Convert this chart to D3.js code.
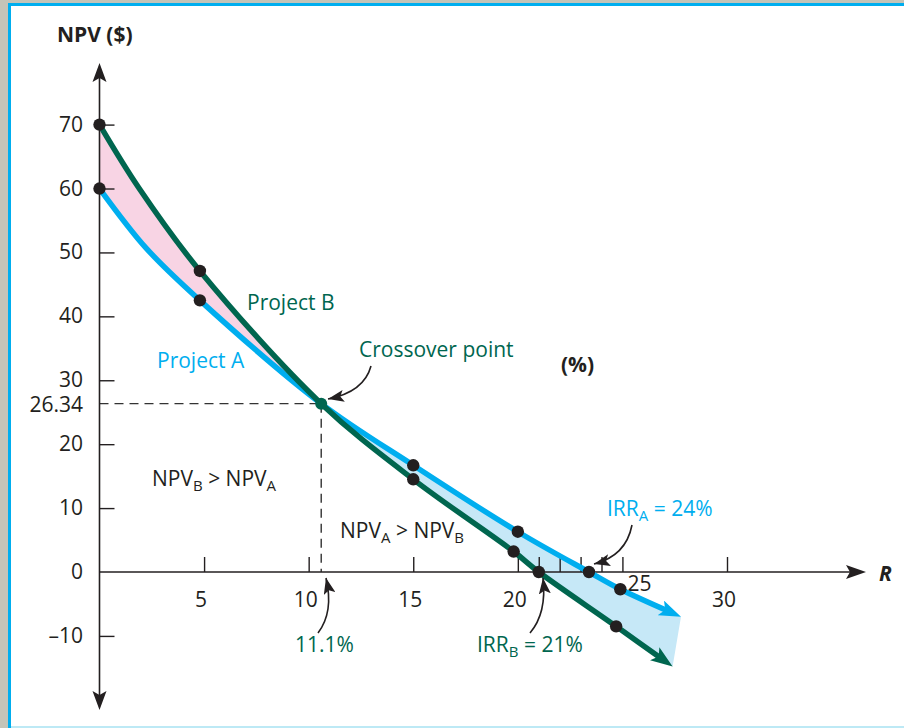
<!DOCTYPE html>
<html><head><meta charset="utf-8">
<script src="https://cdn.jsdelivr.net/npm/d3@7"></script>
<style>
body{margin:0;background:#fff}
svg{display:block}
text{font-family:"Open Sans","Noto Sans",sans-serif;fill:#231f20}
</style>
</head><body>
<svg id="c" width="904" height="728"></svg>
<script>
// ---- data ----
const yTickValues = [-10, 10, 20, 30, 40, 50, 60, 70];
const yTickLabels = [-10, 0, 10, 20, 30, 40, 50, 60, 70];
const xTickValues = [5, 10, 15, 20, 21, 22, 23, 24, 25, 30];
const xTickLabels = [5, 10, 15, 20, 25, 30];

const curveA_R   = [0, 2.25, 4.8, 10.6, 15, 20, 23.4, 24.9, 27.8];
const curveA_NPV = [60, 50.6, 42.5, 26.34, 16.7, 6.3, 0, -2.7, -7.0];
const curveB_R   = [0, 1.9, 4.8, 10.6, 15, 19.8, 21, 24.7, 27.4];
const curveB_NPV = [70, 60.0, 47.1, 26.34, 14.5, 3.2, 0, -8.5, -14.8];

const dotsA_R   = [0, 4.8, 15, 20, 23.4, 24.9];
const dotsA_NPV = [60, 42.5, 16.7, 6.3, 0, -2.7];
const dotsB_R   = [0, 4.8, 15, 19.8, 21, 24.7];
const dotsB_NPV = [70, 47.1, 14.5, 3.2, 0, -8.5];

const crossR = 10.6, crossNPV = 26.34;
const crossLabel = "26.34", crossRateLabel = "11.1%";

// ---- setup ----
const W = 904, H = 728;
const svg = d3.select("#c");
const GREEN = "#00664f", CYAN = "#00aeef", INK = "#231f20";

// frame
svg.append("rect").attr("width", W).attr("height", H).attr("fill", "#c4c4b8");
svg.append("rect").attr("x", 8).attr("y", 3).attr("width", W - 8).attr("height", H - 3).attr("fill", CYAN);
svg.append("rect").attr("x", 11).attr("y", 6).attr("width", W - 11).attr("height", H - 6).attr("fill", "#fff");
svg.append("rect").attr("x", 11).attr("y", 726).attr("width", W - 11).attr("height", 2).attr("fill", "#bde9f5");

const x = d3.scaleLinear().domain([0, 30]).range([99.5, 727]);
const y = d3.scaleLinear().domain([0, 70]).range([572, 124.6]);

const defs = svg.append("defs");
function marker(id, color, len, half) {
  defs.append("marker").attr("id", id)
    .attr("markerUnits", "userSpaceOnUse")
    .attr("viewBox", `0 ${-half} ${len} ${half * 2}`)
    .attr("refX", len).attr("refY", 0)
    .attr("markerWidth", len).attr("markerHeight", half * 2)
    .attr("orient", "auto")
    .append("path")
    .attr("d", `M0,${-half} L${len},0 L0,${half} L${len * 0.22},0 Z`)
    .attr("fill", color);
}
marker("arrA", CYAN, 22, 8);
marker("arrB", GREEN, 22, 8);
marker("arrK", INK, 16, 6);

const toPts = (rs, vs) => rs.map((r, i) => ({r, v: vs[i]}));
const ptsA = toPts(curveA_R, curveA_NPV);
const ptsB = toPts(curveB_R, curveB_NPV);
const line = d3.line().x(d => x(d.r)).y(d => y(d.v)).curve(d3.curveCatmullRom.alpha(0.5));

const gFill = svg.append("g");
const gLines = svg.append("g");
const pathA = gLines.append("path").attr("d", line(ptsA));
const pathB = gLines.append("path").attr("d", line(ptsB));

function sample(p, n) {
  const node = p.node(), L = node.getTotalLength(), out = [];
  for (let i = 0; i <= n; i++) { const q = node.getPointAtLength(L * i / n); out.push([q.x, q.y]); }
  return out;
}
const sA = sample(pathA, 600), sB = sample(pathB, 600);
const xc = x(crossR), yc = y(crossNPV);
const leftA = sA.filter(p => p[0] <= xc), leftB = sB.filter(p => p[0] <= xc);
const rightA = sA.filter(p => p[0] >= xc), rightB = sB.filter(p => p[0] >= xc);
const pink = [...leftA, [xc, yc], ...leftB.slice().reverse()];
const blue = [[xc, yc], ...rightA, ...rightB.slice().reverse()];
gFill.append("path").attr("d", d3.line()(pink) + "Z").attr("fill", "#f8d4e4");
gFill.append("path").attr("d", d3.line()(blue) + "Z").attr("fill", "#c6e8f7");

// dashed guides
const gGuide = svg.append("g").attr("stroke", "#333").attr("stroke-width", 1.4).attr("stroke-dasharray", "9,6");
gGuide.append("line").attr("x1", x(0)).attr("x2", xc).attr("y1", yc).attr("y2", yc);
gGuide.append("line").attr("x1", xc).attr("x2", xc).attr("y1", yc).attr("y2", y(0));

// axes
const gAx = svg.append("g");
gAx.append("line").attr("x1", x(0)).attr("x2", x(0)).attr("y1", 75).attr("y2", 700).attr("stroke", INK).attr("stroke-width", 1.6);
gAx.append("line").attr("x1", x(0)).attr("x2", 855).attr("y1", y(0)).attr("y2", y(0)).attr("stroke", INK).attr("stroke-width", 1.6);
gAx.append("path").attr("d", `M${x(0)},63 L${x(0) + 7},82 L${x(0)},78 L${x(0) - 7},82 Z`).attr("fill", INK);
gAx.append("path").attr("d", `M${x(0)},710 L${x(0) + 7},691 L${x(0)},695 L${x(0) - 7},691 Z`).attr("fill", INK);
gAx.append("path").attr("d", `M866,${y(0)} L846,${y(0) - 7} L850,${y(0)} L846,${y(0) + 7} Z`).attr("fill", INK);

const yAxis = svg.append("g").attr("transform", `translate(${x(0)},0)`)
  .call(d3.axisRight(y).tickValues(yTickValues).tickSize(15).tickFormat(""));
const xAxis = svg.append("g").attr("transform", `translate(0,${y(0)})`)
  .call(d3.axisTop(x).tickValues(xTickValues).tickSize(15).tickFormat(""));
[yAxis, xAxis].forEach(g => {
  g.select(".domain").remove();
  g.selectAll(".tick line").attr("stroke", INK).attr("stroke-width", 1.4);
});

const fs = 21;
svg.append("g").selectAll("text").data(yTickLabels).join("text")
  .attr("x", 83).attr("y", d => y(d) + 7).attr("text-anchor", "end").attr("font-size", fs)
  .text(d => d < 0 ? "\u2013" + Math.abs(d) : d);
svg.append("text").attr("x", 83).attr("y", yc + 8).attr("text-anchor", "end").attr("font-size", fs).text(crossLabel);
svg.append("g").selectAll("text").data(xTickLabels).join("text")
  .attr("x", d => d === 25 ? x(d) + 17 : x(d) - 3).attr("y", d => d === 25 ? 591 : 607)
  .attr("text-anchor", "middle").attr("font-size", fs).text(d => d);

// curves
function drawCurve(p, color, mk) {
  const L = p.node().getTotalLength();
  p.attr("fill", "none").attr("stroke", color).attr("stroke-width", 5.5)
    .attr("stroke-dasharray", `${L - 12},${L}`).attr("marker-end", `url(#${mk})`);
}
drawCurve(pathA, CYAN, "arrA");
drawCurve(pathB, GREEN, "arrB");
gLines.raise();

// dots
const dots = [...toPts(dotsA_R, dotsA_NPV), ...toPts(dotsB_R, dotsB_NPV)];
svg.append("g").selectAll("circle").data(dots).join("circle")
  .attr("cx", d => x(d.r)).attr("cy", d => y(d.v)).attr("r", 6.2).attr("fill", INK);
svg.append("circle").attr("cx", xc).attr("cy", yc).attr("r", 6).attr("fill", GREEN);

// labels
svg.append("text").attr("x", 57).attr("y", 42).attr("font-size", fs).attr("font-weight", "bold").text("NPV ($)");
svg.append("text").attr("x", 561).attr("y", 372).attr("font-size", fs).attr("font-weight", "bold").text("(%)");
svg.append("text").attr("x", 879).attr("y", 581).attr("font-size", fs).attr("font-weight", "bold").attr("font-style", "italic").text("R");
svg.append("text").attr("x", 247).attr("y", 310).attr("font-size", fs).style("fill", GREEN).text("Project B");
svg.append("text").attr("x", 157).attr("y", 368).attr("font-size", fs).style("fill", CYAN).text("Project A");
svg.append("text").attr("x", 359).attr("y", 357).attr("font-size", fs).style("fill", GREEN).text("Crossover point");
svg.append("text").attr("x", 295).attr("y", 652).attr("font-size", fs).style("fill", GREEN).text(crossRateLabel);

function subText(xp, yp, parts, color) {
  const t = svg.append("text").attr("x", xp).attr("y", yp).attr("font-size", fs).style("fill", color || INK);
  let prevSub = false;
  parts.forEach(([s, sub]) => {
    const ts = t.append("tspan").text(s);
    if (sub) ts.attr("font-size", 15).attr("dy", prevSub ? 0 : 5);
    else ts.attr("dy", prevSub ? -5 : 0);
    prevSub = !!sub;
  });
}
subText(152, 486, [["NPV"], ["B", 1], [" > NPV"], ["A", 1]]);
subText(340, 538, [["NPV"], ["A", 1], [" > NPV"], ["B", 1]]);
subText(607, 516, [["IRR"], ["A", 1], [" = 24%"]], CYAN);
subText(477, 652, [["IRR"], ["B", 1], [" = 21%"]], GREEN);

// pointer arrows
const gP = svg.append("g").attr("fill", "none").attr("stroke", INK).attr("stroke-width", 1.6);
["M371,366 Q364,392 328,399", "M318,633 Q334,612 326,578", "M530,633 Q547,613 543,578", "M632,525 Q626,556 594,564"]
  .forEach(d => gP.append("path").attr("d", d).attr("marker-end", "url(#arrK)"));
</script>
</body></html>
